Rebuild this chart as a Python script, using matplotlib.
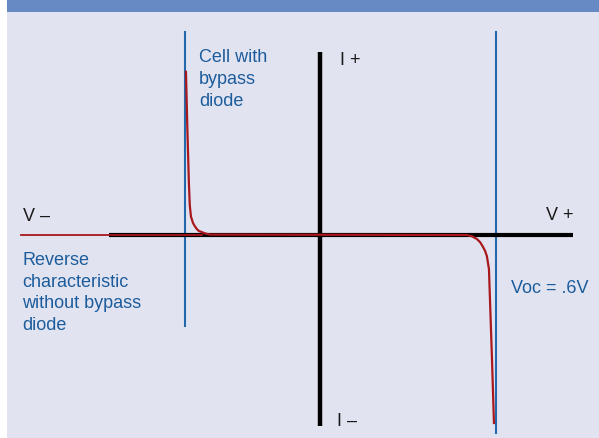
import matplotlib
matplotlib.use("Agg")
import matplotlib.pyplot as plt
from matplotlib.patches import Rectangle

plt.rcParams['font.family'] = ['Liberation Sans', 'DejaVu Sans']

# I-V characteristic of a solar cell with a bypass diode (voltage in V, current in arbitrary units)
bypass_v = [-0.454, -0.449, -0.444, -0.441, -0.437, -0.430, -0.423, -0.416, -0.410, -0.399,
            -0.389, -0.372, 0.501, 0.518, 0.535, 0.546, 0.556, 0.563, 0.569, 0.576, 0.586, 0.593]
bypass_i = [4.08, 2.60, 1.30, 0.75, 0.46, 0.30, 0.21, 0.14, 0.10, 0.07,
            0.04, 0.01, 0.0, -0.03, -0.10, -0.18, -0.30, -0.40, -0.53, -0.85, -3.03, -4.70]

# reverse characteristic without the bypass diode
reverse_v = [-1.015, -0.40]
reverse_i = [0.0, 0.0]

bypass_drop_v = -0.457
voc_v = 0.6

# axis extents
v_axis = [-0.716, 0.862]
i_axis = [-4.78, 4.58]

fig = plt.figure(figsize=(5.99, 4.39), dpi=100)
fig.patch.set_facecolor('white')
H = 439.0
W = 599.0
fig.add_artist(Rectangle((7 / W, 0), 1 - 7 / W, (H - 13) / H, transform=fig.transFigure,
                         facecolor='#e1e4f0', edgecolor='none', zorder=0))
fig.add_artist(Rectangle((7 / W, (H - 13) / H), 1 - 7 / W, 13 / H, transform=fig.transFigure,
                         facecolor='#668ac4', edgecolor='none', zorder=0))

ax = fig.add_axes([0, 0, 1, 1])
ax.set_facecolor('none')
ax.set_xlim(-1.0861, 0.9501)
ax.set_ylim(-5.075, 5.9)
ax.axis('off')

blue = '#2369ad'
red = '#a8181c'
txt_blue = '#1c5c9c'
dark = '#1a1a1a'

# reference lines at the bypass diode drop and at Voc
ax.plot([bypass_drop_v, bypass_drop_v], [-2.275, 5.075], color=blue, lw=1.5, zorder=2)
ax.plot([voc_v, voc_v], [-4.95, 5.075], color=blue, lw=1.5, zorder=2)

# V and I axes
ax.plot(v_axis, [0, 0], color='black', lw=3.0, zorder=3, solid_capstyle='butt')
ax.plot([0, 0], i_axis, color='black', lw=3.2, zorder=3, solid_capstyle='butt')

# characteristic curves
ax.plot(reverse_v, reverse_i, color=red, lw=1.3, zorder=4)
ax.plot(bypass_v, bypass_i, color=red, lw=1.6, zorder=4, solid_joinstyle='round')

fs = 13
ax.text(-0.4096, 3.25, "Cell with\nbypass\ndiode", color=txt_blue, fontsize=fs,
        ha='left', va='baseline', linespacing=1.38)
ax.text(-1.0113, -2.36, "Reverse\ncharacteristic\nwithout bypass\ndiode", color=txt_blue,
        fontsize=fs, ha='left', va='baseline', linespacing=1.38)
ax.text(0.651, -1.425, "Voc = .6V", color=txt_blue, fontsize=fs, ha='left', va='baseline')
ax.text(0.0697, 4.275, "I +", color=dark, fontsize=fs, ha='left', va='baseline')
ax.text(0.0595, -4.75, "I \u2013", color=dark, fontsize=fs, ha='left', va='baseline')
ax.text(-1.008, 0.375, "V \u2013", color=dark, fontsize=fs, ha='left', va='baseline')
ax.text(0.770, 0.40, "V +", color=dark, fontsize=fs, ha='left', va='baseline')

fig.savefig("out.png", dpi=100)
